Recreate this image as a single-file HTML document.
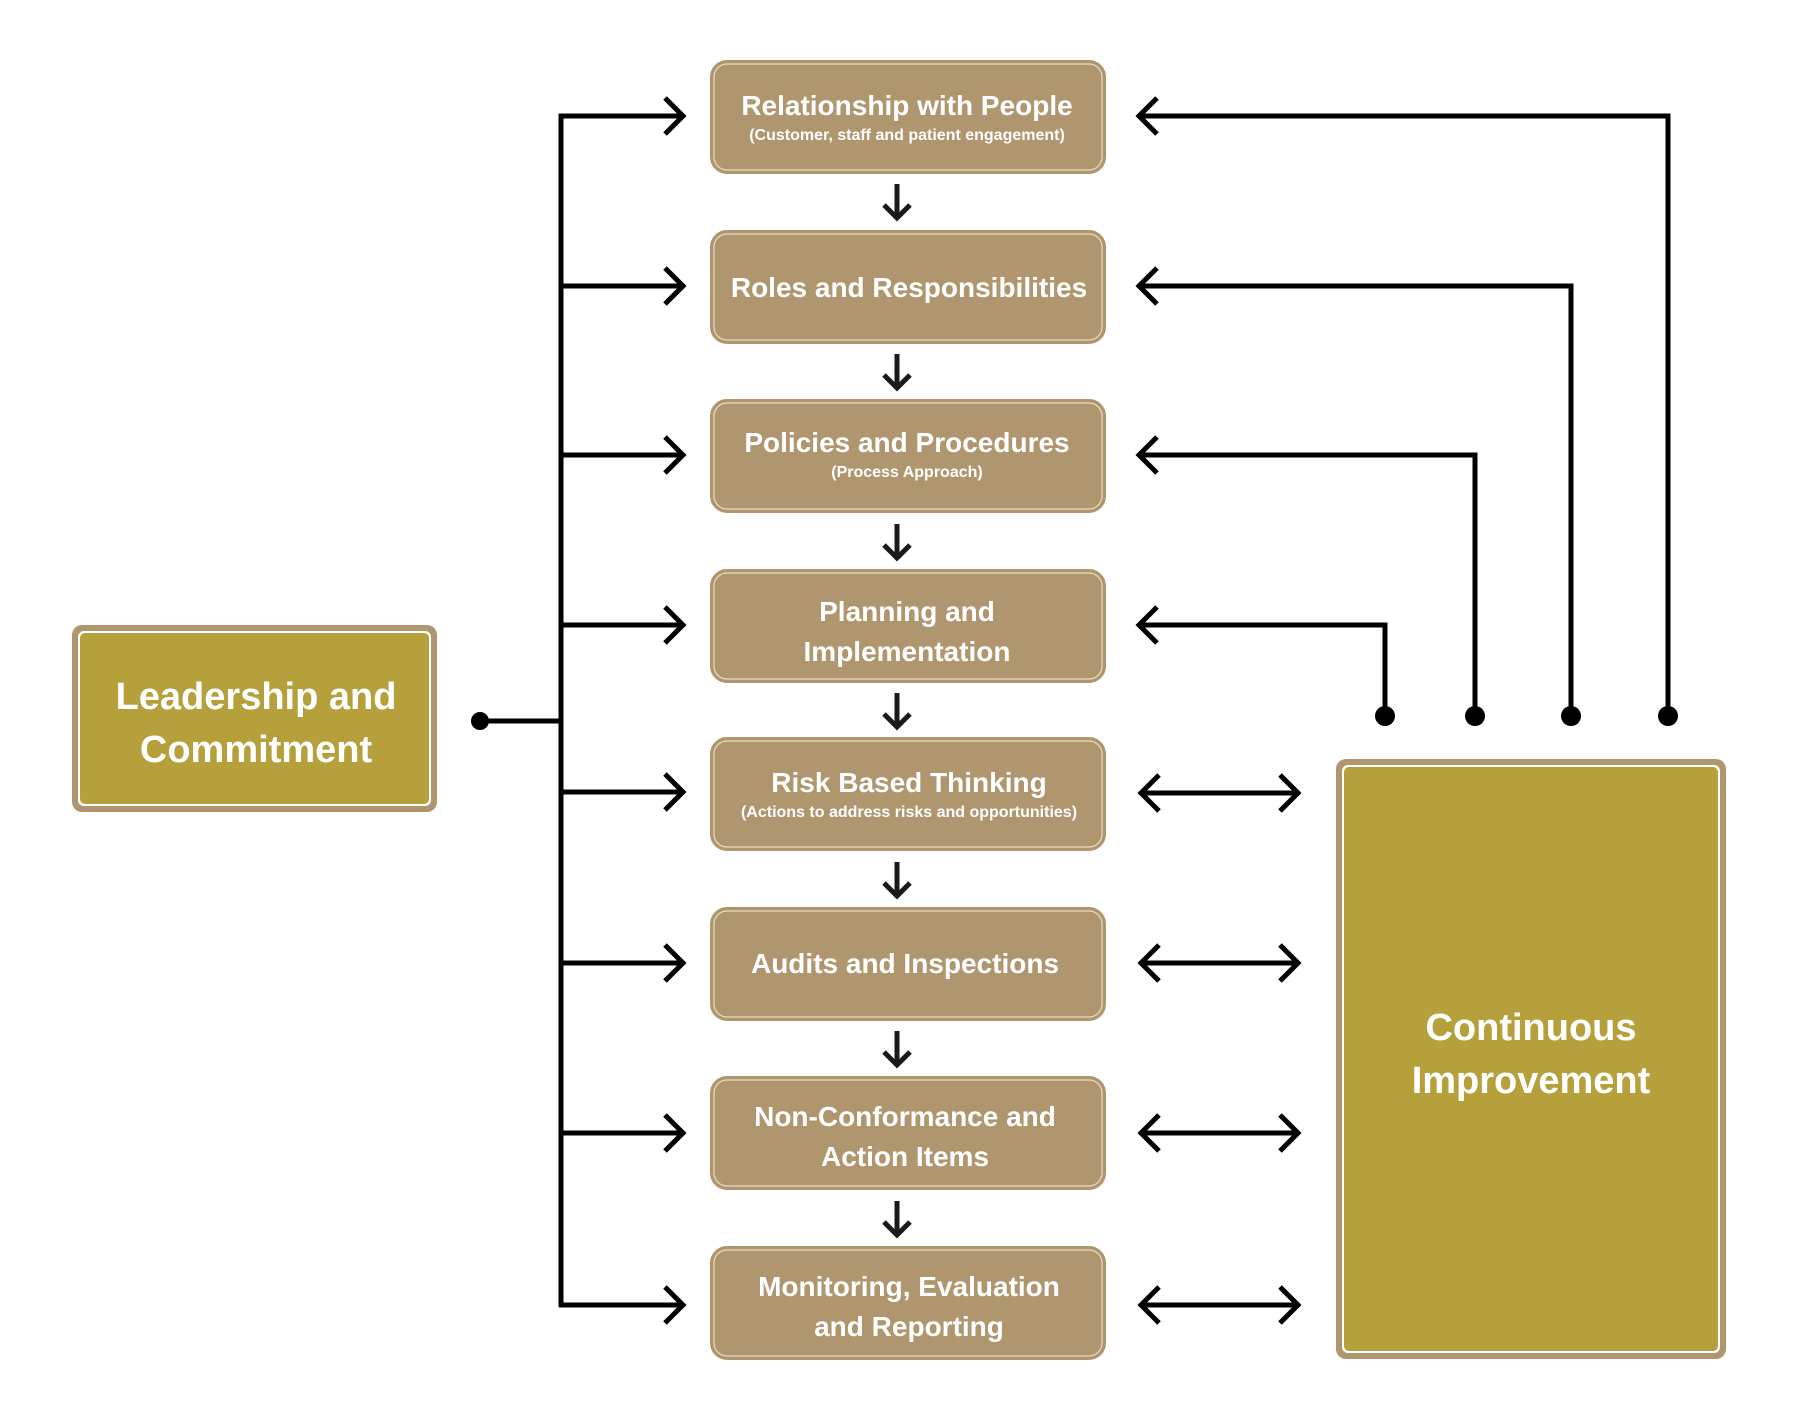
<!DOCTYPE html>
<html><head><meta charset="utf-8"><style>
html,body{margin:0;padding:0;background:#fff;}
svg{display:block;}
text{font-family:"Liberation Sans",sans-serif;font-weight:bold;fill:#fff;text-anchor:middle;}
</style></head><body>
<svg width="1801" height="1428" viewBox="0 0 1801 1428" xmlns="http://www.w3.org/2000/svg">
<g fill="#b0966e" stroke="#b0966e" stroke-width="2">
<rect x="711" y="61" width="394" height="112" rx="16"/>
<rect x="711" y="231" width="394" height="112" rx="16"/>
<rect x="711" y="400" width="394" height="112" rx="16"/>
<rect x="711" y="570" width="394" height="112" rx="16"/>
<rect x="711" y="738" width="394" height="112" rx="16"/>
<rect x="711" y="908" width="394" height="112" rx="16"/>
<rect x="711" y="1077" width="394" height="112" rx="16"/>
<rect x="711" y="1247" width="394" height="112" rx="16"/>
</g>
<g fill="none" stroke="#e8dcc0" stroke-width="1.2">
<rect x="714" y="64" width="388" height="106" rx="13"/>
<rect x="714" y="234" width="388" height="106" rx="13"/>
<rect x="714" y="403" width="388" height="106" rx="13"/>
<rect x="714" y="573" width="388" height="106" rx="13"/>
<rect x="714" y="741" width="388" height="106" rx="13"/>
<rect x="714" y="911" width="388" height="106" rx="13"/>
<rect x="714" y="1080" width="388" height="106" rx="13"/>
<rect x="714" y="1250" width="388" height="106" rx="13"/>
</g>
<rect x="72" y="625" width="365" height="187" rx="10" fill="#b0966e"/>
<rect x="78" y="631" width="353" height="175" rx="6" fill="#fff"/>
<rect x="80" y="633" width="349" height="171" rx="5" fill="#b5a03c"/>
<rect x="1336" y="759" width="390" height="600" rx="10" fill="#b0966e"/>
<rect x="1342" y="765" width="378" height="588" rx="6" fill="#fff"/>
<rect x="1344" y="767" width="374" height="584" rx="5" fill="#b5a03c"/>

<g font-size="28">
<text x="907" y="115">Relationship with People</text>
<text x="907" y="140" font-size="16">(Customer, staff and patient engagement)</text>
<text x="909" y="297">Roles and Responsibilities</text>
<text x="907" y="452">Policies and Procedures</text>
<text x="907" y="477" font-size="16">(Process Approach)</text>
<text x="907" y="621">Planning and</text>
<text x="907" y="661">Implementation</text>
<text x="909" y="792">Risk Based Thinking</text>
<text x="909" y="817" font-size="16">(Actions to address risks and opportunities)</text>
<text x="905" y="973">Audits and Inspections</text>
<text x="905" y="1126">Non-Conformance and</text>
<text x="905" y="1166">Action Items</text>
<text x="909" y="1296">Monitoring, Evaluation</text>
<text x="909" y="1336">and Reporting</text>
</g>
<g font-size="38">
<text x="256" y="709">Leadership and</text>
<text x="256" y="762">Commitment</text>
<text x="1531" y="1040">Continuous</text>
<text x="1531" y="1093">Improvement</text>
</g>

<g stroke="#000" stroke-width="5" fill="none">
<line x1="479" y1="721" x2="561" y2="721"/>
<line x1="561" y1="114" x2="561" y2="1307"/>
<path d="M559 116H683M559 286H683M559 455H683M559 625H683M559 792H683M559 963H683M559 1133H683M559 1305H683"/>
<path d="M665 98L683 116L665 134"/>
<path d="M665 268L683 286L665 304"/>
<path d="M665 437L683 455L665 473"/>
<path d="M665 607L683 625L665 643"/>
<path d="M665 774L683 792L665 810"/>
<path d="M665 945L683 963L665 981"/>
<path d="M665 1115L683 1133L665 1151"/>
<path d="M665 1287L683 1305L665 1323"/>
<g stroke="#1a1a1a">
<path d="M897 184V218M884 205L897 218L910 205"/>
<path d="M897 354V388M884 375L897 388L910 375"/>
<path d="M897 524V558M884 545L897 558L910 545"/>
<path d="M897 693V727M884 714L897 727L910 714"/>
<path d="M897 862V896M884 883L897 896L910 883"/>
<path d="M897 1031V1065M884 1052L897 1065L910 1052"/>
<path d="M897 1201V1235M884 1222L897 1235L910 1222"/>
</g>
<path d="M1139 116H1668V715"/>
<path d="M1139 286H1571V715"/>
<path d="M1139 455H1475V715"/>
<path d="M1139 625H1385V715"/>
<path d="M1157 98L1139 116L1157 134"/>
<path d="M1157 268L1139 286L1157 304"/>
<path d="M1157 437L1139 455L1157 473"/>
<path d="M1157 607L1139 625L1157 643"/>
<path d="M1141 793H1298M1159 775L1141 793L1159 811M1280 775L1298 793L1280 811"/>
<path d="M1141 963H1298M1159 945L1141 963L1159 981M1280 945L1298 963L1280 981"/>
<path d="M1141 1133H1298M1159 1115L1141 1133L1159 1151M1280 1115L1298 1133L1280 1151"/>
<path d="M1141 1305H1298M1159 1287L1141 1305L1159 1323M1280 1287L1298 1305L1280 1323"/>
</g>
<g fill="#000">
<circle cx="480" cy="721" r="9"/>
<circle cx="1385" cy="716" r="10"/>
<circle cx="1475" cy="716" r="10"/>
<circle cx="1571" cy="716" r="10"/>
<circle cx="1668" cy="716" r="10"/>
</g>
</svg>
</body></html>
